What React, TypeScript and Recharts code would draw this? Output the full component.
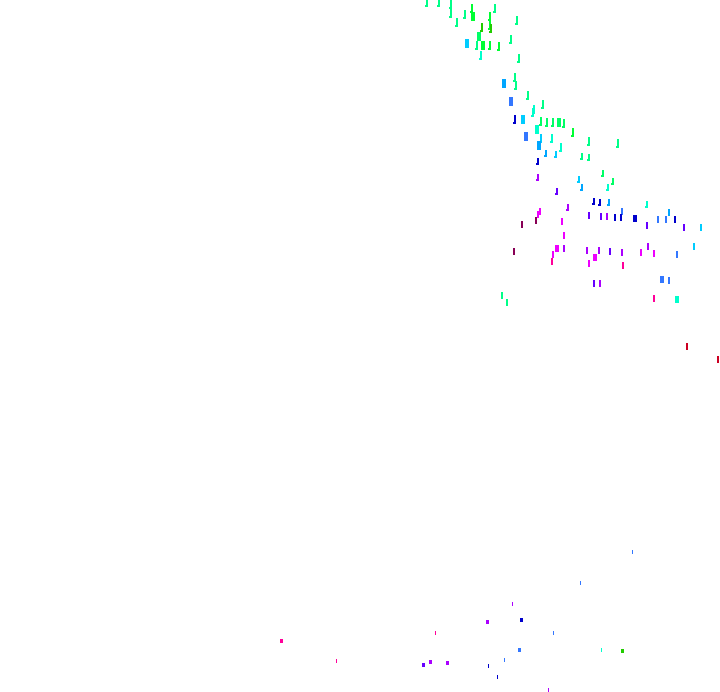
import React from "react";
import { ScatterChart, Scatter, XAxis, YAxis } from "recharts";

type Pt = [number, number, number?];

const springA: Pt[] = [[427,2],[439,3],[451,4],[451,13],[465,14],[457,23],[495,8],[517,20],[511,39],[519,58],[515,77],[516,85],[528,95],[543,104],[582,156],[589,141],[589,157],[618,143],[502,295],[507,302],[477,45]];
const springB: Pt[] = [[541,121],[547,122],[553,122],[559,122,2],[564,123],[603,173],[613,181],[479,36,2]];
const limeBright: Pt[] = [[472,8],[473,16,2],[490,16],[490,25],[573,132],[483,45,2],[490,46],[499,47]];
const limeDark: Pt[] = [[482,27],[491,28],[622,651,2]];
const aqua: Pt[] = [[534,109],[533,112],[537,129,2],[552,138],[561,147],[608,188],[647,204],[677,299,2],[481,55],[601,650]];
const sky: Pt[] = [[467,43,2],[523,119,2],[541,138],[579,179],[556,154],[701,227],[694,247]];
const azure: Pt[] = [[504,83,2],[539,145,2],[546,153],[609,202],[669,212],[582,187]];
const royal: Pt[] = [[511,101,2],[526,136,2],[622,211],[658,219],[666,219],[677,254],[662,279,2],[669,280],[632,552],[580,583],[519,650,2],[505,660],[553,633]];
const navy: Pt[] = [[515,119],[538,161],[594,201],[600,202],[615,217],[621,217],[635,218,2],[675,219],[521,620,2],[488,666],[497,677]];
const indigo: Pt[] = [[557,192],[589,215],[601,216],[647,225],[684,227],[610,251],[594,283],[423,665,2]];
const violet: Pt[] = [[538,177],[568,207],[607,216],[564,248],[587,250],[599,250],[622,252],[648,246],[600,283],[512,604],[487,622,2],[430,662,2],[447,663,2],[548,690]];
const magenta: Pt[] = [[540,211],[538,214],[562,222],[564,235],[557,248,2],[553,254],[641,252],[654,253],[595,257,2],[589,263]];
const rose: Pt[] = [[552,261],[623,265],[654,298],[436,633],[281,641,2],[336,661]];
const plum: Pt[] = [[536,220],[522,224],[514,251]];
const crimson: Pt[] = [[687,347],[718,359]];

const seriesList: { name: string; color: string; points: Pt[] }[] = [
  { name: "springA", color: "#00ff88", points: springA },
  { name: "springB", color: "#00ff66", points: springB },
  { name: "limeBright", color: "#00ff33", points: limeBright },
  { name: "limeDark", color: "#22cc00", points: limeDark },
  { name: "aqua", color: "#00ffcc", points: aqua },
  { name: "sky", color: "#00ccff", points: sky },
  { name: "azure", color: "#00a6ff", points: azure },
  { name: "royal", color: "#3377ff", points: royal },
  { name: "navy", color: "#0000cc", points: navy },
  { name: "indigo", color: "#6600ff", points: indigo },
  { name: "violet", color: "#aa00ff", points: violet },
  { name: "magenta", color: "#ee00ff", points: magenta },
  { name: "rose", color: "#ff0099", points: rose },
  { name: "plum", color: "#880055", points: plum },
  { name: "crimson", color: "#cc0022", points: crimson },
];

const Tick = (props: any) => {
  const { cx, cy, fill, payload } = props;
  const wide = payload.w === 2;
  const lower = cy > 500;
  const h = lower ? 4 : cy < 150 ? 9 : 7;
  const w = lower ? (wide ? 3 : 1) : wide ? 4 : 2;
  const top = Math.round(cy - h / 2);
  const left = Math.round(cx - w / 2);
  const hasFoot = !wide && !lower && cy < 210;
  return (
    <g shapeRendering="crispEdges">
      <rect x={left} y={top} width={w} height={h} fill={fill} />
      {hasFoot && <rect x={left - 1} y={top + h - 2} width={1} height={2} fill={fill} />}
    </g>
  );
};

export default function App() {
  return (
    <div style={{ position: "absolute", left: 0, top: 0, width: 720, height: 692, background: "#fff" }}>
      <ScatterChart width={720} height={692} margin={{ top: 0, right: 0, bottom: 0, left: 0 }}>
        <XAxis type="number" dataKey="x" domain={[0, 720]} hide />
        <YAxis type="number" dataKey="y" domain={[0, 692]} reversed hide />
        {seriesList.map((s) => (
          <Scatter
            key={s.name}
            name={s.name}
            data={s.points.map(([x, y, w]) => ({ x, y, w: w ?? 1 }))}
            fill={s.color}
            shape={Tick}
            isAnimationActive={false}
          />
        ))}
      </ScatterChart>
    </div>
  );
}
